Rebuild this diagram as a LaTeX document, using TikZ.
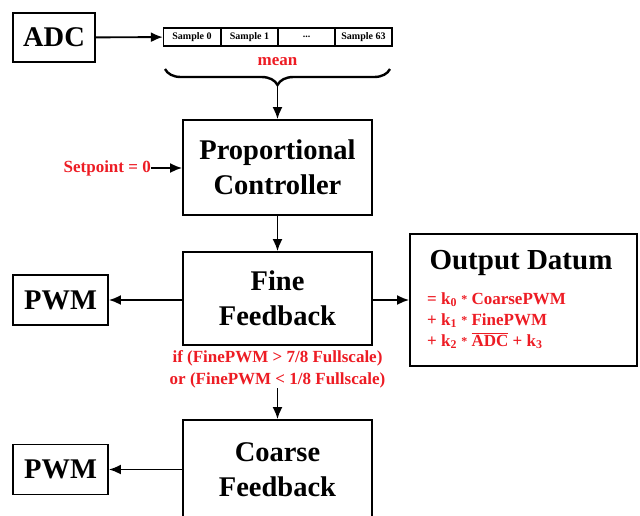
\documentclass[tikz,border=0pt]{standalone}
\usepackage{fontspec}
\setmainfont{Liberation Serif}
\usepackage{xcolor}
\usetikzlibrary{arrows.meta,decorations.pathreplacing}
\definecolor{flagred}{RGB}{237,28,36}
\newcommand{\mulsign}{{\fontsize{12}{12}\selectfont\raisebox{1pt}{*}}}

\begin{document}
\begin{tikzpicture}[x=1pt, y=-1pt, >={Latex[length=12pt, width=10pt]},
    block/.style={draw, line width=1.8pt, align=center, inner sep=0pt,
        font=\fontsize{28.5}{35}\selectfont\bfseries},
    cell/.style={draw, line width=1.3pt, minimum width=57pt, minimum height=18pt,
        inner sep=0pt, font=\fontsize{10}{12}\selectfont\bfseries},
    note/.style={text=flagred, align=center, inner sep=0pt,
        font=\fontsize{17}{22}\selectfont\bfseries},
    link/.style={->, line width=1.9pt}]
    \useasboundingbox (0,0) rectangle (640,515);
    \clip (0,0) rectangle (640,515);

    % sampling
    \node[block, minimum width=82pt, minimum height=49pt] (adc) at (54,37.5) {ADC};
    \node[cell] (s0) at (192,37) {Sample 0};
    \node[cell] (s1) at (249.5,37) {Sample 1};
    \node[cell] (sd) at (306.5,37) {...};
    \node[cell] (s63) at (363.5,37) {Sample 63};
    \draw[link] (adc) -- (s0);

    \draw[decorate, decoration={brace, mirror, amplitude=16pt}, line width=2.4pt] (165,69) -- (390,69);
    \node[note] (mean) at (277.5,62) {mean};
    \coordinate (tip) at (277.5,86);

    % control loop
    \node[block, minimum width=189pt, minimum height=95pt] (pc) at (277.5,167.5) {Proportional\\Controller};
    \node[note, anchor=east] (setp) at (151,168) {Setpoint = 0};
    \draw[link] (tip) -- (pc);
    \draw[link] (setp) -- (setp -| pc.west);

    \node[block, minimum width=189pt, minimum height=93pt] (fine) at (277.5,298.5) {Fine\\Feedback};
    \node[block, minimum width=95pt, minimum height=50pt] (pwm1) at (60.5,300) {PWM};
    \draw[link] (pc) -- (fine);
    \draw[link] (fine.west |- pwm1) -- (pwm1);

    % output
    \node[draw, line width=1.8pt, minimum width=227pt, minimum height=132pt, inner sep=0pt] (out) at (523.5,300) {};
    \node[font=\fontsize{29}{35}\selectfont\bfseries, inner sep=0pt] (outt) at (521,263) {Output Datum};
    \node[note, align=left, anchor=north west, font=\fontsize{17}{21}\selectfont\bfseries] (eqs) at (427,292)
        {= k\textsubscript{0} \mulsign{} CoarsePWM\\
         + k\textsubscript{1} \mulsign{} FinePWM\\
         + k\textsubscript{2} \mulsign{} $\overline{\hbox{ADC}}$ + k\textsubscript{3}};
    \draw[link] (fine.east |- out) -- (out);

    \node[note] (cond) at (277.5,369) {if (FinePWM > 7/8 Fullscale)\\or (FinePWM < 1/8 Fullscale)};
    \node[block, minimum width=189pt, minimum height=100pt] (coarse) at (277.5,470) {Coarse\\Feedback};
    \node[block, minimum width=95pt, minimum height=50pt] (pwm2) at (60.5,469.5) {PWM};
    \draw[link] (cond) -- (coarse);
    \draw[link] (coarse.west |- pwm2) -- (pwm2);
\end{tikzpicture}
\end{document}
